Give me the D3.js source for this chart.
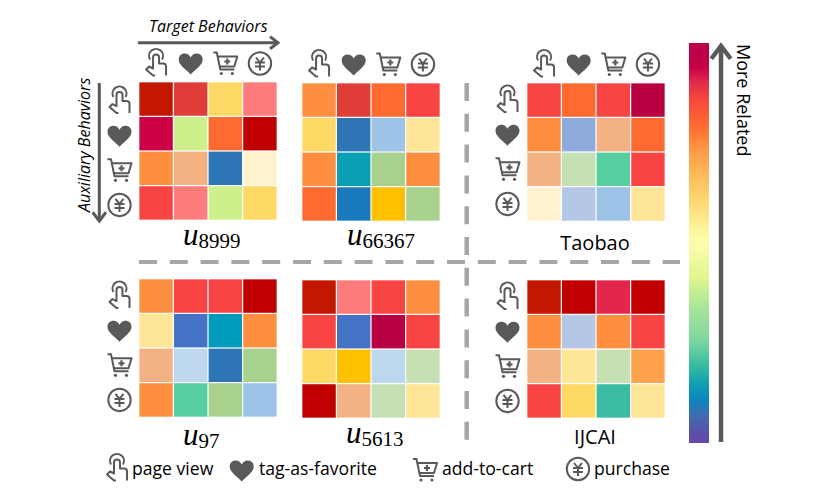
<!DOCTYPE html>
<html>
<head>
<meta charset="utf-8">
<script src="https://cdnjs.cloudflare.com/ajax/libs/d3/7.8.5/d3.min.js"></script>
<style>
  html, body { margin: 0; padding: 0; background: #fff; }
  text { font-family: "Open Sans", "Noto Sans", sans-serif; fill: #000; }
</style>
</head>
<body>
<div id="chart"></div>
<script>
// relatedness level of each cell, rows = auxiliary, columns = target
const behaviors = ['page view', 'tag-as-favorite', 'add-to-cart', 'purchase']
const u8999 = [[26, 24, 16, 22], [28, 13, 21, 27], [20, 18, 1, 14], [23, 22, 13, 16]]
const u66367 = [[20, 24, 21, 23], [16, 1, 8, 15], [20, 4, 11, 20], [21, 2, 17, 11]]
const taobao = [[23, 21, 23, 29], [20, 7, 18, 21], [18, 12, 6, 23], [14, 9, 8, 15]]
const u97 = [[20, 23, 23, 27], [15, 0, 3, 20], [18, 10, 1, 11], [20, 6, 11, 8]]
const u5613 = [[26, 22, 23, 20], [23, 0, 29, 23], [16, 17, 10, 12], [27, 18, 12, 15]]
const ijcai = [[26, 27, 25, 27], [20, 9, 20, 23], [18, 15, 12, 19], [23, 16, 5, 15]]

const levelColors = ['#4472c4', '#2e75b6', '#1a7abd', '#009bbd', '#0aa0b4', '#3bbca3', '#57cfa0',
  '#8faadc', '#9dc3e6', '#b4c7e7', '#bdd7ee', '#a9d18e', '#c6e0b4', '#cdf08c', '#fff2cc', '#ffe597',
  '#ffd966', '#ffc000', '#f4b183', '#ffa24d', '#ff8f40', '#ff6a30', '#ff7c7c', '#f94444', '#e03c38',
  '#e3264c', '#c21700', '#c00000', '#cc0044', '#b80042']

const colorScale = d3.scaleQuantize().domain([0, levelColors.length]).range(levelColors)

const width = 830
const height = 498
const cellSize = 138
const ink = '#595959'

const svg = d3
  .select('#chart')
  .append('svg')
  .attr('width', width)
  .attr('height', height)
  .style('display', 'block')

const panels = [
  { data: u8999, x: 139, y: 82, top: true, left: true, leftY: 2, sub: '8999', labelX: 183, labelY: 245 },
  { data: u66367, x: 302, y: 83, top: true, left: false, sub: '66367', labelX: 347, labelY: 245 },
  { data: taobao, x: 527, y: 83, top: true, left: true, leftY: 0, name: 'Taobao', labelX: 595, labelY: 250 },
  { data: u97, x: 139, y: 279, top: false, left: true, leftY: 0, sub: '97', labelX: 183, labelY: 445 },
  { data: u5613, x: 302, y: 280, top: false, left: false, sub: '5613', labelX: 346, labelY: 443 },
  { data: ijcai, x: 527, y: 280, top: false, left: true, leftY: 0, name: 'IJCAI', labelX: 595, labelY: 444 }
]

const band = d3.scaleBand().domain(d3.range(4)).range([0, cellSize]).paddingInner(0.035).paddingOuter(0.01)

// the four behaviour icons, drawn around 0,0
function drawIcon(parent, i, x, y) {
  const g = parent.append('g')
    .attr('transform', `translate(${x},${y})`)
    .attr('fill', 'none')
    .attr('stroke', ink)
    .attr('stroke-width', 2)
    .attr('stroke-linejoin', 'round')
  if (i === 0) {
    g.append('path').attr('d', 'M-6,-4 a7,7 0 1 1 12,0')
    g.append('path').attr('d', 'M-1,12 H-3 L-10,6 L-7,3 L-3,5 V-6 a3,3 0 0 1 6,0 V0 H7 a3,3 0 0 1 3,3 V12')
  } else if (i === 1) {
    g.append('path')
      .attr('d', 'M0,11 C-4,6 -12,2 -12,-4 C-12,-8 -9,-10 -6,-10 C-3,-10 -1,-8 0,-6 C1,-8 3,-10 6,-10 C9,-10 12,-8 12,-4 C12,2 4,6 0,11Z')
      .attr('fill', ink)
      .attr('stroke', 'none')
  } else if (i === 2) {
    g.append('path').attr('d', 'M-12,-11 H-8.5 L-5,6 H9 M-8,-7 H12 L9,3 H-5.5')
    g.append('path').attr('d', 'M-1,-2 H5 M2,-5 V1').attr('stroke-width', 2.2)
    g.selectAll('circle.wheel')
      .data([-4, 7])
      .enter()
      .append('circle')
      .attr('cx', d => d)
      .attr('cy', 10)
      .attr('r', 1.6)
      .attr('fill', ink)
      .attr('stroke', 'none')
  } else {
    g.append('circle').attr('r', 11.2)
    g.append('path').attr('d', 'M-4,-6 L0,-1 L4,-6 M-5,-1 H5 M-5,3 H5 M0,-1 V7')
  }
}

panels.forEach(p => {
  const g = svg.append('g').attr('transform', `translate(${p.x},${p.y})`)

  p.data.forEach((row, r) => {
    g.selectAll(`rect.row${r}`)
      .data(row)
      .enter()
      .append('rect')
      .attr('class', `row${r}`)
      .attr('x', (d, c) => band(c))
      .attr('y', band(r))
      .attr('width', band.bandwidth())
      .attr('height', band.bandwidth())
      .attr('fill', d => colorScale(d))
  })

  behaviors.forEach((b, i) => {
    const mid = band(i) + band.bandwidth() / 2
    if (p.top) drawIcon(g, i, mid, -18.5)
    if (p.left) drawIcon(g, i, -19.5, mid + p.leftY)
  })

  if (p.name) {
    g.append('text')
      .attr('x', p.labelX - p.x)
      .attr('y', p.labelY - p.y)
      .attr('text-anchor', 'middle')
      .attr('font-size', 20)
      .text(p.name)
  } else {
    const t = g.append('text')
      .attr('x', p.labelX - p.x)
      .attr('y', p.labelY - p.y)
      .style('font-family', '"Liberation Serif", serif')
    t.append('tspan').attr('font-size', 31).attr('font-style', 'italic').text('u')
    t.append('tspan').attr('font-size', 21).attr('dy', 3).text(p.sub)
  }
})

// dashed dividers
svg.append('line')
  .attr('x1', 139).attr('x2', 680).attr('y1', 262).attr('y2', 262)
  .attr('stroke', '#a6a6a6').attr('stroke-width', 4)
  .attr('stroke-dasharray', '18 12.8')
svg.append('line')
  .attr('x1', 466.7).attr('x2', 466.7).attr('y1', 83).attr('y2', 451)
  .attr('stroke', '#a6a6a6').attr('stroke-width', 4.5)
  .attr('stroke-dasharray', '18 12.8')

// arrows: shaft plus an open head
function arrow(x1, y1, x2, y2, w, head) {
  const a = Math.atan2(y2 - y1, x2 - x1)
  const g = svg.append('g').attr('fill', 'none').attr('stroke', ink).attr('stroke-width', w)
  g.append('line').attr('x1', x1).attr('y1', y1).attr('x2', x2).attr('y2', y2)
  const pt = s => [x2 - head * Math.cos(a + s), y2 - head * Math.sin(a + s)]
  g.append('path').attr('d', d3.line()([pt(0.65), [x2, y2], pt(-0.65)]))
}
arrow(138, 42.7, 278, 42.7, 3, 10)
arrow(99.3, 83, 99.3, 221, 3, 11)
arrow(721, 442, 721, 46, 4.5, 16)

svg.append('text')
  .attr('x', 149).attr('y', 32)
  .attr('font-size', 16).attr('font-style', 'italic')
  .text('Target Behaviors')
svg.append('text')
  .attr('transform', 'translate(90,212) rotate(-90)')
  .attr('font-size', 16).attr('font-style', 'italic')
  .text('Auxiliary Behaviors')
svg.append('text')
  .attr('transform', 'translate(737,44) rotate(90)')
  .attr('font-size', 18)
  .text('More Related')

// colour bar
const barStops = [
  [43, '#b80048'], [68, '#c90048'], [81, '#e0284c'], [101, '#f84a3c'], [125, '#ff6a30'],
  [151, '#ff9a48'], [181, '#fdc25f'], [211, '#fde27f'], [238, '#fdfcaa'], [250, '#f8fba8'],
  [277, '#e0f78e'], [307, '#a8e598'], [340, '#7fd6a0'], [363, '#3dc0a0'], [383, '#10a0b0'],
  [400, '#0a85c0'], [413, '#3a70b0'], [433, '#5a50a8'], [443, '#6a45a8']
]
const barY = d3.scaleLinear().domain([43, 443]).range([0, 100])
const grad = svg.append('defs').append('linearGradient')
  .attr('id', 'bar').attr('x1', 0).attr('x2', 0).attr('y1', 0).attr('y2', 1)
grad.selectAll('stop')
  .data(barStops)
  .enter()
  .append('stop')
  .attr('offset', d => barY(d[0]) + '%')
  .attr('stop-color', d => d[1])
svg.append('rect')
  .attr('x', 689).attr('y', 43).attr('width', 20).attr('height', 400)
  .attr('fill', 'url(#bar)')

// legend
const legendIcon = [[117, 468.5], [241.7, 470.5], [425, 470], [578, 469]]
const legendText = [132, 259, 442, 594]
behaviors.forEach((b, i) => {
  drawIcon(svg, i, legendIcon[i][0], legendIcon[i][1])
  svg.append('text')
    .attr('x', legendText[i])
    .attr('y', 475)
    .attr('font-size', 17.6)
    .text(b)
})
</script>
</body>
</html>
